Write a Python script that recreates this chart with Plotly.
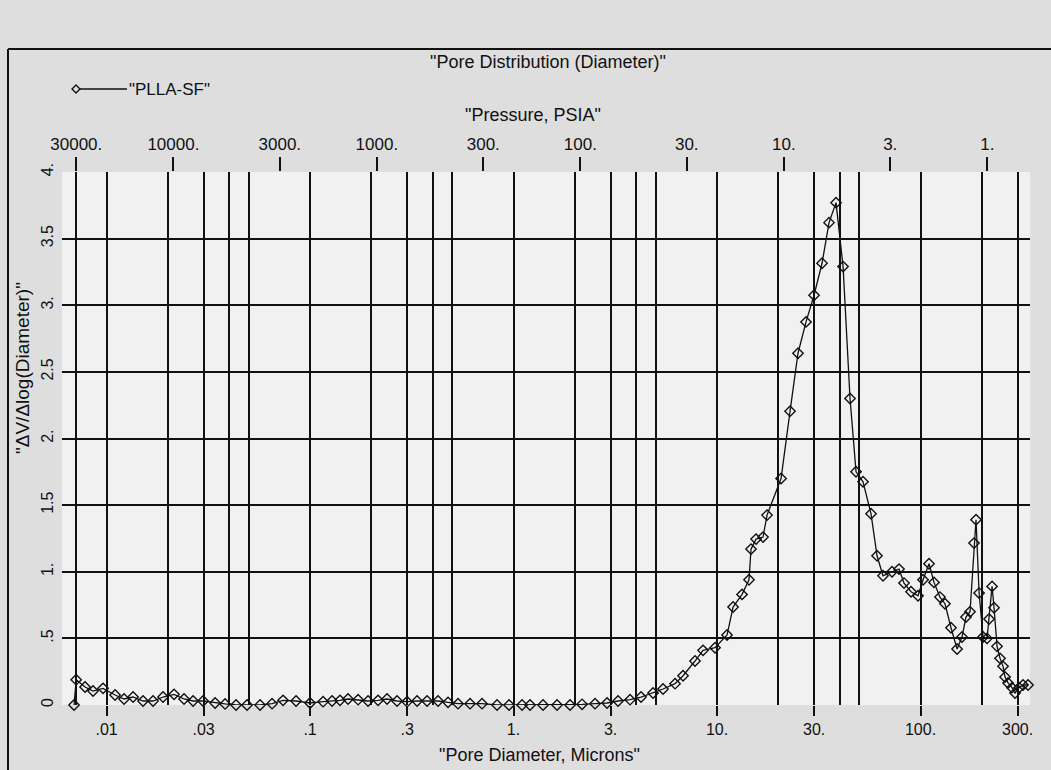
import math
import plotly.graph_objects as go

# ---------------- data ----------------
diameter_um = [
    0.00692, 0.00709, 0.00784, 0.00858, 0.00961, 0.01101, 0.01219, 0.01350, 0.01511, 0.01692,
    0.01895, 0.02146, 0.02403, 0.02662, 0.02981, 0.03414, 0.03823, 0.04329, 0.04902, 0.05680,
    0.06506, 0.07368, 0.08536, 0.1000, 0.1159, 0.1283, 0.1404, 0.1537, 0.1722, 0.1928,
    0.2159, 0.2390, 0.2676, 0.2998, 0.3357, 0.3758, 0.4256, 0.4765, 0.5338, 0.6113,
    0.7000, 0.8297, 0.9504, 1.101, 1.205, 1.396, 1.636, 1.895, 2.171, 2.515,
    2.881, 3.263, 3.737, 4.231, 4.848, 5.428, 6.219, 6.807, 7.796, 8.536,
    9.777, 11.20, 11.99, 13.27, 14.36, 14.69, 15.55, 16.83, 17.61, 20.64,
    22.85, 25.00, 27.37, 29.98, 32.81, 35.52, 38.44, 41.63, 45.04, 48.20,
    52.17, 57.12, 61.13, 65.42, 72.44, 78.41, 82.97, 89.82, 97.20, 102.9,
    110.1, 116.5, 124.6, 131.9, 141.2, 151.2, 159.9, 167.3, 175.1, 183.2,
    187.4, 194.0, 202.9, 212.3, 217.2, 224.7, 229.8, 237.7, 245.9, 254.4,
    260.3, 269.2, 281.6, 291.4, 304.8, 319.0, 337.6,
]
dv_dlogd = [
    0.0, 0.19, 0.135, 0.105, 0.125, 0.075, 0.045, 0.06, 0.03, 0.03,
    0.06, 0.08, 0.045, 0.03, 0.03, 0.015, 0.008, 0.0, 0.0, 0.0,
    0.01, 0.035, 0.03, 0.015, 0.025, 0.03, 0.035, 0.045, 0.04, 0.03,
    0.035, 0.045, 0.03, 0.025, 0.03, 0.03, 0.03, 0.02, 0.01, 0.01,
    0.01, 0.0, 0.0, 0.0, 0.0, 0.0, 0.0, 0.0, 0.005, 0.01,
    0.015, 0.03, 0.04, 0.06, 0.09, 0.12, 0.16, 0.22, 0.33, 0.41,
    0.43, 0.525, 0.735, 0.83, 0.94, 1.17, 1.245, 1.26, 1.425, 1.70,
    2.205, 2.64, 2.875, 3.075, 3.315, 3.62, 3.77, 3.29, 2.30, 1.75,
    1.675, 1.435, 1.12, 0.97, 1.0, 1.02, 0.915, 0.85, 0.82, 0.94,
    1.06, 0.92, 0.81, 0.76, 0.58, 0.42, 0.51, 0.66, 0.70, 1.215,
    1.39, 0.84, 0.51, 0.50, 0.645, 0.89, 0.73, 0.44, 0.35, 0.29,
    0.21, 0.165, 0.13, 0.09, 0.13, 0.15, 0.15,
]
series_name = '"PLLA-SF"'

diam_ticks = [0.01, 0.03, 0.1, 0.3, 1, 3, 10, 30, 100, 300]
diam_labels = [".01", ".03", ".1", ".3", "1.", "3.", "10.", "30.", "100.", "300."]
diam_minor_grid = [0.0071, 0.02, 0.04, 0.05, 0.2, 0.4, 0.5, 2, 4, 5, 20, 40, 50, 200]

washburn_const = 213.0  # PSIA * micron
pressure_ticks = [30000, 10000, 3000, 1000, 300, 100, 30, 10, 3, 1]
pressure_labels = ["30000.", "10000.", "3000.", "1000.", "300.", "100.", "30.", "10.", "3.", "1."]

y_ticks = [0, 0.5, 1, 1.5, 2, 2.5, 3, 3.5, 4]
y_labels = ["0", ".5", "1.", "1.5", "2.", "2.5", "3.", "3.5", "4."]

# ---------------- layout geometry ----------------
W, H = 1051, 770
L, R, T, B = 62, 1030, 172, 705  # plot area in pixels
x_range = [-2.219, 2.538]


def px(xp):
    return (xp - L) / (R - L)


def py(yp):
    return (B - yp) / (B - T)


FONT = "Liberation Sans, Arial, sans-serif"
INK = "#111111"
GRID_W = 1.5

fig = go.Figure()
fig.add_trace(go.Scatter(
    x=diameter_um, y=dv_dlogd, mode="lines+markers",
    line=dict(color=INK, width=1.3),
    marker=dict(symbol="diamond-open", size=8, color=INK, line=dict(width=1.4)),
    cliponaxis=False, showlegend=False, name=series_name,
))
# invisible companion trace on the pressure axis so it is drawn
fig.add_trace(go.Scatter(
    x=[washburn_const / p for p in pressure_ticks], y=[None] * len(pressure_ticks),
    xaxis="x2", mode="markers", showlegend=False, hoverinfo="skip",
))

fig.update_layout(
    width=W, height=H,
    margin=dict(l=L, r=W - R, t=T, b=H - B, pad=0),
    paper_bgcolor="#dedede",
    plot_bgcolor="#f1f1f1",
    font=dict(family=FONT, size=16, color=INK),
    showlegend=False,
    xaxis=dict(
        type="log", range=x_range,
        tickmode="array", tickvals=diam_ticks, ticktext=diam_labels,
        ticks="outside", ticklen=10, tickwidth=1.5, tickcolor=INK,
        showgrid=True, gridcolor=INK, gridwidth=GRID_W,
        minor=dict(tickmode="array", tickvals=diam_minor_grid, showgrid=True,
                   gridcolor=INK, gridwidth=GRID_W, ticks=""),
        showline=False, zeroline=False,
        tickfont=dict(size=16),
    ),
    xaxis2=dict(
        type="log", range=x_range, overlaying="x", side="top", anchor="y",
        tickmode="array", tickvals=[washburn_const / p for p in pressure_ticks],
        ticktext=pressure_labels,
        ticks="outside", ticklen=14, tickwidth=1.5, tickcolor=INK,
        showgrid=False, showline=False, zeroline=False,
        tickfont=dict(size=17),
    ),
    yaxis=dict(
        range=[0, 4], tickmode="array", tickvals=y_ticks, ticktext=y_labels,
        tickangle=-90, ticks="", ticklabelstandoff=5,
        showgrid=True, gridcolor=INK, gridwidth=GRID_W,
        zeroline=False, showline=False,
        tickfont=dict(size=16),
    ),
)

# outer frame (left and top edges)
fig.add_shape(type="line", xref="paper", yref="paper",
              x0=px(8), x1=px(8), y0=py(H + 5), y1=py(49),
              line=dict(color=INK, width=2))
fig.add_shape(type="line", xref="paper", yref="paper",
              x0=px(8), x1=px(W + 5), y0=py(49), y1=py(49),
              line=dict(color=INK, width=2))

# legend (manual)
fig.add_shape(type="line", xref="paper", yref="paper",
              x0=px(76), x1=px(127), y0=py(89), y1=py(89),
              line=dict(color=INK, width=1.3))
fig.add_shape(type="path", xref="paper", yref="paper",
              xsizemode="pixel", ysizemode="pixel",
              xanchor=px(76), yanchor=py(89),
              path="M -4 0 L 0 4 L 4 0 L 0 -4 Z",
              fillcolor="#dedede", line=dict(color=INK, width=1.4))
fig.add_annotation(text=series_name, xref="paper", yref="paper",
                   x=px(127), y=py(89), xanchor="left", yanchor="middle",
                   showarrow=False, font=dict(size=17))

# titles
fig.add_annotation(text='"Pore Distribution (Diameter)"', xref="paper", yref="paper",
                   x=px(548), y=py(62), xanchor="center", yanchor="middle",
                   showarrow=False, font=dict(size=18))
fig.add_annotation(text='"Pressure, PSIA"', xref="paper", yref="paper",
                   x=px(533), y=py(115), xanchor="center", yanchor="middle",
                   showarrow=False, font=dict(size=18))
fig.add_annotation(text='"Pore Diameter, Microns"', xref="paper", yref="paper",
                   x=px(539), y=py(755), xanchor="center", yanchor="middle",
                   showarrow=False, font=dict(size=18))
fig.add_annotation(text='"\u0394V/\u0394log(Diameter)"', xref="paper", yref="paper",
                   x=px(22), y=py(368), xanchor="center", yanchor="middle",
                   textangle=-90, showarrow=False, font=dict(size=19))

fig.write_html("out.html")
